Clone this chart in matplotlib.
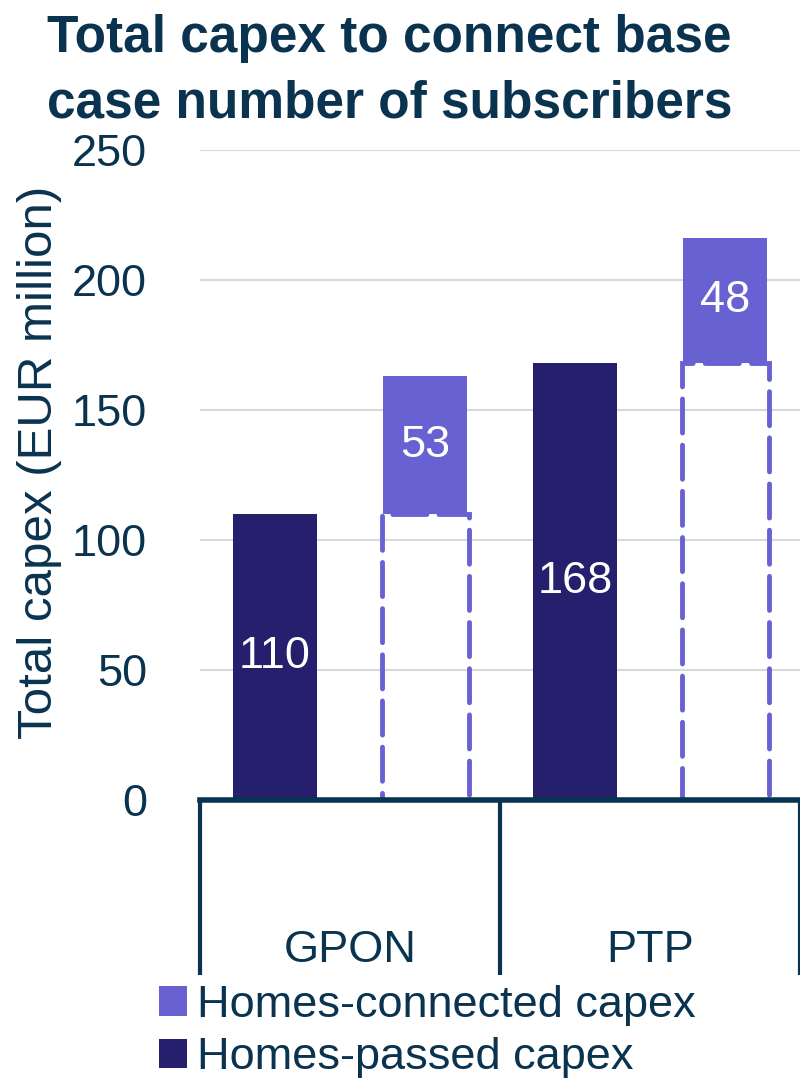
import matplotlib
matplotlib.use("Agg")
import matplotlib.pyplot as plt
from matplotlib.patches import Patch
import matplotlib.transforms as mtransforms

plt.rcParams['font.family'] = ['Liberation Sans', 'DejaVu Sans']

# ---- data ----
categories = ["GPON", "PTP"]
homes_passed = [110, 168]
homes_connected = [53, 48]
series_labels = ["Homes-connected capex", "Homes-passed capex"]
yticks = [0, 50, 100, 150, 200, 250]
title_lines = ["Total capex to connect base", "case number of subscribers"]
ylabel = "Total capex (EUR million)"

# ---- style ----
NAVY = "#0a3350"
DARK = "#251f6d"
LIGHT = "#6861d1"
GRID = "#d9d9d9"

W, H = 800, 1081
fig = plt.figure(figsize=(W / 100, H / 100), dpi=100)

def fx(px):
    return px / W

def fy(py):
    return 1 - py / H

ax = fig.add_axes([fx(200), fy(800), fx(800) - fx(200), fy(150) - fy(800)])

xs = list(range(len(categories)))
bw = 0.28
off = 0.25
x_passed = [x - off for x in xs]
x_conn = [x + off for x in xs]

ax.bar(x_passed, homes_passed, width=bw, color=DARK, zorder=3)
ax.bar(x_conn, homes_connected, width=bw, bottom=homes_passed, color=LIGHT, zorder=3)
ax.bar(x_conn, homes_passed, width=bw + 0.01, bottom=0, fill=False,
       edgecolor=LIGHT, linewidth=3.5, linestyle=(0, (7, 2.5)), zorder=4,
       capstyle="round")

fs = 32.5
for x, v in zip(x_passed, homes_passed):
    ax.text(x, v / 2, f"{v}", ha="center", va="center", color="white", fontsize=fs, zorder=5)
for x, b, v in zip(x_conn, homes_passed, homes_connected):
    ax.text(x, b + v / 2, f"{v}", ha="center", va="center", color="white", fontsize=fs, zorder=5)

ax.set_xlim(-0.5, len(categories) - 0.5)
ax.set_ylim(0, 250)
ax.set_yticks(yticks)
ax.set_xticks([])
ax.tick_params(axis="y", length=0, pad=38, labelsize=fs, labelcolor=NAVY)
ax.yaxis.grid(True, color=GRID, linewidth=1.5, zorder=0)
ax.set_axisbelow(True)
for s in ["top", "right", "left"]:
    ax.spines[s].set_visible(False)
ax.spines["bottom"].set_color(NAVY)
ax.spines["bottom"].set_linewidth(4)
ax.spines["bottom"].set_zorder(6)

# category separators and labels
trans = mtransforms.blended_transform_factory(ax.transData, ax.transAxes)
sep_bottom = (800 - 975) / 650
for b in [x - 0.5 for x in xs] + [xs[-1] + 0.5]:
    ax.plot([b, b], [0, sep_bottom], color=NAVY, linewidth=3, transform=trans,
            clip_on=False, solid_capstyle="butt", zorder=6)
for x, c in zip(xs, categories):
    ax.text(x, (800 - 962) / 650, c, ha="center", va="baseline", color=NAVY,
            fontsize=fs, transform=trans)

# y label
fig.text(fx(40), fy(462), ylabel, rotation=90, ha="center", va="center",
         color=NAVY, fontsize=35.5)

# title
fig.text(fx(47), fy(52), title_lines[0], ha="left", va="baseline", color=NAVY,
         fontsize=37, fontweight="bold")
fig.text(fx(47), fy(118), title_lines[1], ha="left", va="baseline", color=NAVY,
         fontsize=37, fontweight="bold")

# legend
handles = [Patch(facecolor=LIGHT), Patch(facecolor=DARK)]
leg = fig.legend(handles, series_labels, loc="upper left",
                 bbox_to_anchor=(fx(159), fy(985)), frameon=False, fontsize=fs,
                 handlelength=0.62, handleheight=0.62, handletextpad=0.22,
                 labelspacing=0.25, borderpad=0, borderaxespad=0)
for t in leg.get_texts():
    t.set_color(NAVY)

fig.savefig("out.png", dpi=100)
